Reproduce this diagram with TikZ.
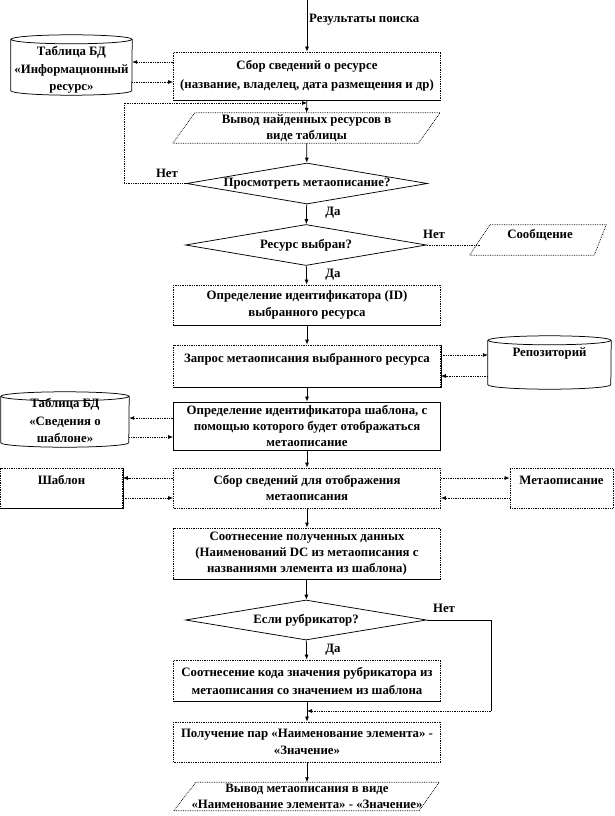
\documentclass[tikz,border=0pt]{standalone}
\usepackage{fontspec}
\setmainfont{Liberation Serif}
\usetikzlibrary{arrows.meta,shapes.geometric,calc}
\newcommand\myfs[1]{\bfseries\fontsize{12.8}{#1}\selectfont}
\newcommand\cylout[2]{%
  \draw[ln] ([yshift=-4.5pt]#1.north) ellipse [x radius=#2, y radius=4.5pt];
  \draw[ln] ([yshift=-4.5pt]#1.north west) -- ([yshift=4.5pt]#1.south west)
     arc[start angle=180,end angle=360,x radius=#2,y radius=4.5pt] -- ([yshift=-4.5pt]#1.north east);}
\newcommand\paraout[3]{%
  \draw[ln,densely dotted] ([xshift=-#2]#1.south west) -- ([xshift=#2]#1.north west) -- ([xshift=#3]#1.north east) -- ([xshift=-#3]#1.south east) -- cycle;}
\begin{document}
\begin{tikzpicture}[x=1pt,y=-1pt,font=\myfs{16},
  ln/.style={line width=0.75pt},
  arr/.style={ln,-{Latex[length=5pt,width=4pt]}},
  side/.style={arr,densely dotted},
  bx/.style={rectangle,draw,densely dotted,line width=0.75pt,minimum width=267pt,align=center,inner sep=1pt},
  sbx/.style={rectangle,draw,line width=0.75pt,minimum width=267pt,align=center,inner sep=1pt},
  dm/.style={diamond,draw,line width=0.75pt,minimum width=241pt,minimum height=41pt,inner sep=0pt},
  tx/.style={rectangle,align=center,inner sep=0pt},
  lbl/.style={inner sep=0pt}]
\useasboundingbox (0,0) rectangle (614,816);
\fill[white] (0,0) rectangle (614,816);

% ---- nodes ----
\coordinate (top) at (307,0);
\node[lbl,anchor=west] (lres) at (309,20) {Результаты поиска};

\node[bx,minimum height=48pt,font=\myfs{19}] (b1) at (307,76) {Сбор сведений о ресурсе\\(название, владелец, дата размещения и др)};
\node[tx,minimum width=121pt,minimum height=60pt] (c1) at (71.5,65) {};
\cylout{c1}{60.5pt}
\node[tx,font=\myfs{17.5}] (c1t) at (71.5,70) {Таблица БД\\«Информационный\\ресурс»};

\node[tx,minimum width=245pt,minimum height=30pt] (p1) at (306.5,128) {Вывод найденных ресурсов в\\виде таблицы};
\paraout{p1}{11pt}{11pt}

\node[dm] (d1) at (307,183.5) {\makebox[0pt]{Просмотреть метаописание?}};
\node[lbl] (n1) at (167,173) {Нет};
\node[lbl] (y1) at (333,213) {Да};

\node[dm] (d2) at (306,245) {\makebox[0pt]{Ресурс выбран?}};
\node[lbl] (n2) at (434,234) {Нет};
\node[tx,minimum width=120pt,minimum height=30pt,font=\myfs{12}] (msg) at (540,240) {Сообщение\\\mbox{}};
\paraout{msg}{10pt}{6pt}
\node[lbl] (y2) at (333,275) {Да};

\node[bx,minimum height=40pt,font=\myfs{17}] (b3) at (307,305) {Определение идентификатора (ID)\\выбранного ресурса};

\node[bx,minimum height=42pt,font=\myfs{17}] (b4) at (307,366) {Запрос метаописания выбранного ресурса\\\mbox{}};
\node[tx,minimum width=123pt,minimum height=53pt] (rep) at (549.5,362.5) {};
\cylout{rep}{61.5pt}
\node[tx] (rept) at (549.5,353) {Репозиторий};

\node[tx,minimum width=128pt,minimum height=55pt] (c2) at (65,419.5) {};
\cylout{c2}{64pt}
\node[tx,font=\myfs{17.5}] (c2t) at (65,420.5) {Таблица БД\\«Сведения о\\шаблоне»};
\node[sbx,minimum height=48pt] (b5) at (307,426) {Определение идентификатора шаблона, с\\помощью которого будет отображаться\\метаописание};

\node[bx,minimum height=40pt] (b6) at (307,488) {Сбор сведений для отображения\\метаописания};
\node[bx,minimum width=122pt,minimum height=40pt] (sh) at (61.5,488) {Шаблон\\\mbox{}};
\node[bx,minimum width=103pt,minimum height=40pt] (mo) at (561.5,488) {Метаописание\\\mbox{}};

\node[bx,minimum height=51pt] (b7) at (307,553.5) {Соотнесение полученных данных\\(Наименований DC из метаописания с\\названиями элемента из шаблона)};

\node[dm,minimum height=40pt] (d3) at (306,620) {\makebox[0pt]{Если рубрикатор?}};
\node[lbl] (n3) at (444,608) {Нет};
\node[lbl] (y3) at (333,650) {Да};

\node[bx,minimum height=41pt,font=\myfs{18}] (b8) at (307,680.5) {Соотнесение кода значения рубрикатора из\\метаописания со значением из шаблона};

\node[bx,minimum height=40pt,font=\myfs{17}] (b9) at (307,742) {Получение пар «Наименование элемента» -\\«Значение»};

\node[tx,minimum width=244pt,minimum height=28pt,font=\myfs{16}] (p2) at (307,796.5) {Вывод метаописания в виде\\«Наименование элемента» - «Значение»};
\paraout{p2}{11pt}{10pt}

% shadow-like solid edges
\draw[ln] (b1.south west) -- (b1.south east);
\draw[ln] (b3.south west) -- (b3.south east);
\draw[ln] (b4.south west) -- (b4.south east) -- (b4.north east);
\draw[ln] (b7.south west) -- (b7.south east);
\draw[ln] (b8.south west) -- (b8.south east);
\draw[ln] (sh.south west) -- (sh.south east) -- (sh.north east);

% ---- main flow ----
\draw[arr] (top) -- (b1);
\draw[arr] (b1) -- (p1);
\draw[arr] (p1) -- (d1);
\draw[arr] (d1) -- (d2);
\draw[arr] (d2) -- (b3);
\draw[arr] (b3) -- (b4);
\draw[arr] (b4) -- (b5);
\draw[arr] (b5) -- (b6);
\draw[arr] (b6) -- (b7);
\draw[arr] (b7) -- (d3);
\draw[arr] (d3) -- (b8);
\draw[arr] (b8) -- (b9);
\draw[arr] (b9) -- (p2);

% ---- side connectors ----
\draw[side] (b1.west |- 0,62) -- (c1.east |- 0,62);
\draw[side] (c1.east |- 0,82) -- (b1.west |- 0,82);

\coordinate (l1) at (124,103);
\draw[side] (d1.west) -| (l1) -- (b1.south |- l1);

\draw[ln,densely dotted] (d2.east) -- (msg.west |- d2.east);

\draw[side] (b4.east |- 0,355) -- (rep.west |- 0,355);
\draw[side] (rep.west |- 0,376) -- (b4.east |- 0,376);

\draw[side] (b5.west |- 0,418) -- (c2.east |- 0,418);
\draw[side] (c2.east |- 0,437) -- (b5.west |- 0,437);

\draw[side] (b6.west |- 0,478) -- (sh.east |- 0,478);
\draw[side] (sh.east |- 0,498) -- (b6.west |- 0,498);
\draw[side] (b6.east |- 0,478) -- (mo.west |- 0,478);
\draw[side] (mo.west |- 0,498) -- (b6.east |- 0,498);

\coordinate (r1) at (491,711);
\draw[ln] (d3.east) -| (r1);
\draw[side] (r1) -- (b8.south |- r1);
\end{tikzpicture}
\end{document}
